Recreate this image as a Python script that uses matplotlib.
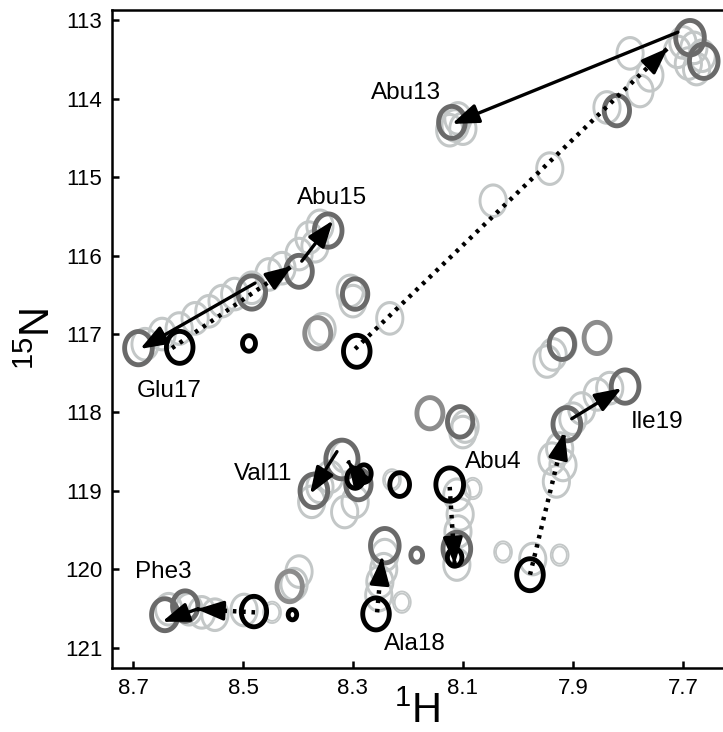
import numpy as np
import matplotlib.pyplot as plt

plt.rcParams['font.family'] = ['Liberation Sans', 'DejaVu Sans']
plt.rcParams['mathtext.default'] = 'regular'

# peaks: 1H shift, 15N shift, relative intensity
# reference spectrum (black)
black_h = [8.293, 8.615, 8.489, 8.296, 8.280, 8.215, 8.480, 8.410, 8.258, 8.124, 7.978, 8.115]
black_n = [117.22, 117.17, 117.12, 118.84, 118.78, 118.92, 120.54, 120.58, 120.57, 118.92, 120.07, 119.85]
black_i = [1.0, 1.0, 0.42, 0.5, 0.45, 0.6, 0.9, 0.36, 1.0, 1.1, 1.0, 0.45]

# final spectrum (dark grey)
dark_h = [8.120, 7.687, 7.662, 7.820, 8.345, 8.398, 8.484, 8.690, 8.296, 8.371, 8.320,
          8.290, 8.642, 8.605, 8.242, 8.111, 8.105, 7.911, 7.805, 7.920, 8.184]
dark_n = [114.30, 113.22, 113.52, 114.15, 115.68, 116.20, 116.47, 117.18, 116.49, 119.00, 118.60,
          118.92, 120.58, 120.47, 119.70, 119.74, 118.12, 118.15, 117.67, 117.13, 119.82]
dark_i = [1.0, 1.2, 1.2, 0.9, 1.1, 1.0, 1.1, 1.1, 0.9, 1.1, 1.7,
          0.9, 1.0, 0.9, 1.2, 1.1, 0.9, 1.1, 1.1, 0.9, 0.4]

# medium grey peaks
mid_h = [8.364, 8.415, 7.856, 8.160]
mid_n = [116.99, 120.22, 117.05, 118.01]
mid_i = [0.95, 0.9, 0.95, 0.95]

# titration points (light grey)
light_h = [8.114, 8.109, 8.124, 8.100,
           7.700, 7.680, 7.665, 7.690, 7.675, 7.710,
           7.796, 7.760, 7.778, 7.838, 7.942, 8.045, 8.233,
           8.678, 8.647, 8.616, 8.587, 8.562, 8.538, 8.515, 8.484, 8.453, 8.429, 8.398, 8.380, 8.360, 8.369,
           8.305, 8.300, 8.356,
           8.342, 8.315, 8.296, 8.375, 8.315, 8.360, 8.229,
           8.635, 8.598, 8.575, 8.551, 8.498, 8.447,
           8.398, 8.407,
           8.253, 8.251, 8.244, 8.242, 8.211,
           8.111, 8.105, 8.109, 8.111, 8.082,
           8.096, 8.100,
           7.973, 7.924, 8.027, 7.938, 7.924, 7.918, 7.930, 7.884, 7.856, 7.833, 7.900,
           7.936, 7.947, 7.918]
light_n = [114.34, 114.25, 114.40, 114.38,
           113.28, 113.35, 113.45, 113.55, 113.62, 113.40,
           113.42, 113.70, 113.90, 114.11, 114.89, 115.30, 116.80,
           117.13, 117.00, 116.93, 116.80, 116.71, 116.58, 116.49, 116.41, 116.24, 116.16, 115.98, 115.77, 115.62, 115.88,
           116.45, 116.58, 116.94,
           118.82, 118.56, 119.14, 119.14, 119.27, 118.95, 118.86,
           120.51, 120.51, 120.55, 120.58, 120.52, 120.55,
           120.03, 120.19,
           120.33, 120.16, 120.00, 119.82, 120.42,
           119.05, 119.30, 119.52, 119.94, 118.97,
           118.18, 118.25,
           119.87, 119.82, 119.78, 118.59, 118.46, 118.67, 118.88, 117.95, 117.77, 117.69, 118.08,
           117.26, 117.35, 117.13]
light_i = [1.0] * len(light_h)
for k in [40, 46, 53, 58, 62, 63]:
    light_i[k] = 0.5

# chemical shift paths (start 1H, start 15N, end 1H, end 15N)
solid_paths = [(7.709, 113.15, 8.120, 114.32),
               (8.393, 116.07, 8.336, 115.55),
               (8.478, 116.35, 8.687, 117.19),
               (8.329, 118.50, 8.378, 119.04),
               (8.584, 120.51, 8.647, 120.67),
               (7.902, 118.08, 7.811, 117.69)]
dotted_paths = [(8.296, 117.19, 7.727, 113.35),
                (8.629, 117.18, 8.410, 116.13),
                (8.289, 118.84, 8.309, 118.62),
                (8.478, 120.55, 8.584, 120.51),
                (8.256, 120.55, 8.247, 119.85),
                (8.124, 118.95, 8.115, 119.94),
                (7.978, 120.07, 7.915, 118.25)]

labels = ['Abu13', 'Abu15', 'Glu17', 'Val11', 'Phe3', 'Ala18', 'Abu4', 'Ile19']
label_h = [8.204, 8.338, 8.635, 8.464, 8.644, 8.187, 8.045, 7.747]
label_n = [113.93, 115.26, 117.73, 118.78, 120.03, 120.95, 118.63, 118.12]

SX, SY = 0.016, 0.135


def field(X, Y, h, n, a):
    return a * np.exp(-0.5 * ((X - h) / SX) ** 2 - 0.5 * ((Y - n) / SY) ** 2)


def draw_peaks(ax, hs, ns, amps, levels, color, lw, z):
    for h, n, a in zip(hs, ns, amps):
        px = np.linspace(h - 0.07, h + 0.07, 80)
        py = np.linspace(n - 0.55, n + 0.55, 80)
        PX, PY = np.meshgrid(px, py)
        ax.contour(PX, PY, field(PX, PY, h, n, a), levels=levels,
                   colors=color, linewidths=lw, zorder=z)


fig = plt.figure(figsize=(7.23, 7.32), dpi=100)
ax = fig.add_axes([0.155, 0.0874, 0.845, 0.8986])

draw_peaks(ax, light_h, light_n, light_i, [0.3, 0.36], '#c3c7c7', 1.3, 1)
draw_peaks(ax, mid_h, mid_n, mid_i, [0.32], '#8c8c8c', 3.5, 2)
draw_peaks(ax, dark_h, dark_n, dark_i, [0.32], '#6a6a6a', 3.5, 3)
draw_peaks(ax, black_h, black_n, black_i, [0.32], 'black', 3.5, 4)

head = dict(arrowstyle='-|>,head_length=0.9,head_width=0.33', color='black',
            lw=2.4, shrinkA=0, shrinkB=0, mutation_scale=18)

for h0, n0, h1, n1 in solid_paths:
    ax.annotate('', xy=(h1, n1), xytext=(h0, n0), arrowprops=head, zorder=6)

for h0, n0, h1, n1 in dotted_paths:
    ax.plot([h0, h1], [n0, n1], color='black', lw=3.2, ls=(0, (0.8, 1.3)), zorder=5)
    ax.annotate('', xy=(h1, n1), xytext=(h1 - 0.05 * (h1 - h0), n1 - 0.05 * (n1 - n0)),
                arrowprops=head, zorder=6)

for t, h, n in zip(labels, label_h, label_n):
    ax.text(h, n, t, fontsize=17.5, ha='center', va='center', zorder=7)

ax.set_xlim(8.738, 7.627)
ax.set_ylim(121.26, 112.87)
ax.set_xticks([8.7, 8.5, 8.3, 8.1, 7.9, 7.7])
ax.set_xticklabels(['8.7', '8.5', '8.3', '8.1', '7.9', '7.7'])
ax.set_yticks([113, 114, 115, 116, 117, 118, 119, 120, 121])
ax.tick_params(direction='in', length=5, width=1.8, labelsize=16, pad=7)
ax.spines['right'].set_visible(False)
for s in ['left', 'top', 'bottom']:
    ax.spines[s].set_linewidth(1.8)

ax.set_xlabel('$^{1}$H', fontsize=30, labelpad=-5)
ax.set_ylabel('$^{15}$N', fontsize=30, labelpad=4)

fig.savefig('out.png', dpi=100)
